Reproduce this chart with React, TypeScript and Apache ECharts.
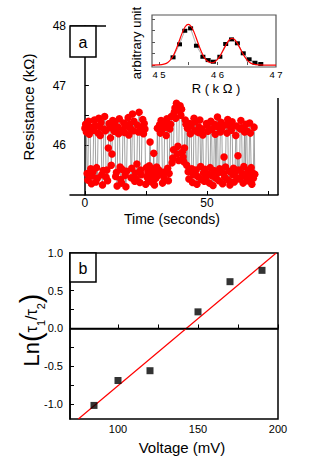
import React, { useEffect, useRef } from 'react';
import * as echarts from 'echarts';

const FONT = '"Liberation Sans", Arial, sans-serif';

// ---- Panel (a): random telegraph signal, resistance (kΩ) sampled every 0.3 s ----
const sampleStep = 0.3;
const resistance = [
  46.28, 46.35, 46.22, 45.52, 45.41, 46.40, 46.18, 46.30, 45.60, 45.35,
  45.48, 45.55, 46.25, 46.42, 46.33, 45.38, 45.62, 45.44, 46.20, 46.45,
  46.31, 46.16, 46.38, 45.50, 45.33, 45.57, 46.27, 46.48, 46.24, 45.46,
  45.58, 45.40, 45.95, 46.36, 46.29, 46.12, 45.66, 45.85, 46.41, 46.34,
  46.23, 46.39, 45.47, 45.54, 45.31, 46.30, 46.19, 46.44, 45.63, 45.42,
  45.36, 45.59, 46.26, 46.37, 46.21, 45.49, 45.30, 45.56, 46.32, 46.46,
  46.17, 46.35, 46.28, 45.45, 45.61, 46.52, 46.24, 46.40, 45.39, 45.53,
  45.43, 45.68, 46.33, 46.22, 46.55, 45.37, 45.58, 45.50, 46.30, 46.43,
  46.19, 46.36, 46.27, 45.34, 45.62, 45.46, 45.55, 45.41, 45.65, 46.05,
  45.52, 45.38, 45.60, 45.47, 45.86, 45.33, 45.57, 45.44, 45.63, 46.28,
  45.49, 45.58, 46.34, 46.20, 46.41, 46.25, 45.36, 45.54, 45.45, 46.38,
  46.30, 46.16, 46.44, 45.61, 45.40, 45.52, 46.27, 46.35, 46.48, 45.70,
  45.78, 45.92, 46.55, 46.62, 46.45, 46.70, 45.85, 45.98, 45.74, 46.58,
  46.66, 46.50, 46.60, 45.88, 45.80, 45.72, 45.95, 46.42, 46.35, 45.66,
  46.28, 45.55, 45.43, 46.36, 46.19, 46.32, 45.60, 45.37, 45.50, 46.45,
  46.24, 46.39, 45.58, 45.34, 45.47, 46.21, 46.30, 46.42, 45.64, 45.42,
  46.27, 46.17, 45.53, 45.39, 45.59, 45.45, 46.36, 46.33, 46.23, 45.51,
  45.36, 45.62, 46.40, 46.26, 45.48, 45.32, 45.57, 46.35, 46.18, 45.44,
  46.31, 46.47, 45.54, 45.40, 45.60, 46.22, 46.38, 46.28, 45.35, 45.52,
  45.80, 45.46, 45.63, 46.34, 46.20, 46.43, 45.41, 45.56, 45.33, 46.30,
  46.25, 46.39, 45.50, 45.61, 45.38, 45.55, 46.16, 46.32, 45.45, 45.82,
  45.58, 45.43, 46.27, 46.41, 46.29, 45.52, 45.36, 45.64, 46.22, 45.47,
  46.35, 46.24, 45.40, 45.57, 45.49, 46.37, 46.20, 45.62, 45.34, 45.53,
  45.44, 46.30, 45.51,
];
const timeTicks = [0, 25, 50, 75];
const timeLabels = [0, 50];
const resTicks = [45.5, 46, 46.5, 47, 47.5, 48];
const resLabels = [46, 47, 48];

// ---- Inset: histogram of R (kΩ) and double-Gaussian fit ----
const histR = [4.524, 4.535, 4.544, 4.554, 4.564, 4.575, 4.584, 4.593, 4.604, 4.614, 4.624, 4.634, 4.644, 4.654, 4.664, 4.674];
const histCount = [0.67, 1.80, 2.98, 3.19, 1.68, 0.72, 0.43, 0.29, 0.72, 1.83, 2.23, 1.89, 1.02, 0.50, 0.20, 0.09];
const fitR = [4.488, 4.50, 4.51, 4.515, 4.52, 4.525, 4.53, 4.535, 4.54, 4.545, 4.55, 4.555, 4.56, 4.565, 4.57, 4.575, 4.58, 4.585, 4.59, 4.595, 4.60, 4.605, 4.61, 4.615, 4.62, 4.625, 4.63, 4.635, 4.64, 4.645, 4.65, 4.655, 4.66, 4.67, 4.68, 4.70];
const fitCount = [0.0, 0.01, 0.10, 0.23, 0.48, 0.88, 1.46, 2.15, 2.84, 3.35, 3.54, 3.35, 2.84, 2.15, 1.46, 0.88, 0.48, 0.27, 0.20, 0.27, 0.49, 0.84, 1.31, 1.80, 2.18, 2.32, 2.18, 1.80, 1.31, 0.84, 0.47, 0.23, 0.10, 0.01, 0.0, 0.0];
const insetTicks = [4.5, 4.55, 4.6, 4.65];
const insetLabels = [4.5, 4.6, 4.7];

// ---- Panel (b): Ln(tau1/tau2) vs voltage ----
const voltage = [85, 100, 120, 150, 170, 190];
const lnRatio = [-1.02, -0.69, -0.56, 0.22, 0.62, 0.77];
const fitVoltage = [75.2, 198.9];
const fitLn = [-1.2, 1.0];
const voltTicks = [100, 125, 150, 175, 200];
const voltLabels = [100, 150, 200];
const lnTicks = [-1, -0.75, -0.5, -0.25, 0, 0.25, 0.5, 0.75, 1];
const lnLabels = [-1, -0.5, 0, 0.5, 1];

const axisLine = { show: true, lineStyle: { color: '#000', width: 1.5 } };

export default function App() {
  const ref = useRef<HTMLDivElement>(null);
  useEffect(() => {
    if (!ref.current) return;
    const chart = echarts.init(ref.current, null, { renderer: 'svg' });
    const timeData = resistance.map((r, i) => [+(i * sampleStep).toFixed(1), r]);
    const option: any = {
      animation: false,
      textStyle: { fontFamily: FONT, color: '#000' },
      grid: [
        { left: 70, top: 26, width: 208, height: 169 },
        { left: 152, top: 15, width: 124, height: 52, show: true, borderColor: '#555', borderWidth: 1.2 },
        { left: 70, top: 253, width: 208, height: 166, show: true, borderColor: '#000', borderWidth: 1.5 },
      ],
      xAxis: [
        {
          gridIndex: 0, type: 'value', min: -6.1, max: 79.1,
          axisLine, splitLine: { show: false },
          axisTick: { show: true, inside: true, length: 4, customValues: timeTicks, lineStyle: { color: '#000' } },
          axisLabel: { customValues: timeLabels, fontSize: 12, color: '#000', margin: 2, fontFamily: FONT },
        },
        {
          gridIndex: 1, type: 'value', min: 4.488, max: 4.7,
          axisLine: { show: false }, splitLine: { show: false },
          axisTick: { show: true, inside: true, length: 3, customValues: insetTicks, lineStyle: { color: '#555' } },
          axisLabel: {
            customValues: insetLabels, fontSize: 9.5, color: '#000', margin: 2, fontFamily: FONT,
            formatter: (v: number) => v.toFixed(1).replace('.', ' '),
          },
        },
        {
          gridIndex: 2, type: 'value', min: 70, max: 200,
          axisLine, splitLine: { show: false },
          axisTick: { show: true, inside: true, length: 4, customValues: voltTicks, lineStyle: { color: '#000' } },
          axisLabel: { customValues: voltLabels, fontSize: 11, color: '#000', margin: 4, fontFamily: FONT },
        },
      ],
      yAxis: [
        {
          gridIndex: 0, type: 'value', min: 45.16, max: 48,
          axisLine, splitLine: { show: false },
          axisTick: { show: true, inside: true, length: 4, customValues: resTicks, lineStyle: { color: '#000' } },
          axisLabel: { customValues: resLabels, fontSize: 12, color: '#000', margin: 4, fontFamily: FONT },
        },
        {
          gridIndex: 1, type: 'value', min: -0.17, max: 4.35,
          axisLine: { show: false }, splitLine: { show: false },
          axisTick: { show: true, inside: true, length: 3, customValues: [0, 1, 2, 3, 4], lineStyle: { color: '#555' } },
          axisLabel: { show: false },
        },
        {
          gridIndex: 2, type: 'value', min: -1.2, max: 1.0,
          axisLine, splitLine: { show: false },
          axisTick: { show: true, inside: true, length: 4, customValues: lnTicks, lineStyle: { color: '#000' } },
          axisLabel: {
            customValues: lnLabels, fontSize: 11, color: '#000', margin: 7, fontFamily: FONT,
            formatter: (v: number) => v.toFixed(1),
          },
        },
      ],
      series: [
        {
          type: 'line', xAxisIndex: 0, yAxisIndex: 0, data: timeData, symbol: 'none',
          lineStyle: { color: '#8a8a8a', width: 0.8 }, z: 2,
        },
        {
          type: 'scatter', xAxisIndex: 0, yAxisIndex: 0, data: timeData, symbol: 'circle', symbolSize: 7.5,
          itemStyle: { color: '#ff0000', opacity: 1 }, z: 3,
        },
        {
          type: 'line', xAxisIndex: 1, yAxisIndex: 1, data: histR.map((r, i) => [r, histCount[i]]),
          symbol: 'rect', symbolSize: [5, 4], showSymbol: true,
          itemStyle: { color: '#000' }, lineStyle: { color: '#999', width: 0.8 }, z: 3,
        },
        {
          type: 'line', xAxisIndex: 1, yAxisIndex: 1, data: fitR.map((r, i) => [r, fitCount[i]]),
          symbol: 'none', smooth: 0.3, lineStyle: { color: '#ff0000', width: 1.2 }, z: 4,
        },
        {
          type: 'scatter', xAxisIndex: 2, yAxisIndex: 2, data: voltage.map((v, i) => [v, lnRatio[i]]),
          symbol: 'rect', symbolSize: 7, itemStyle: { color: '#000' }, z: 4,
          markLine: {
            silent: true, symbol: 'none', label: { show: false },
            lineStyle: { color: '#000', width: 1.3, type: 'solid' },
            data: [{ yAxis: 0 }],
          },
        },
        {
          type: 'line', xAxisIndex: 2, yAxisIndex: 2, data: fitVoltage.map((v, i) => [v, fitLn[i]]),
          symbol: 'none', lineStyle: { color: '#ff0000', width: 1.2 }, z: 3,
        },
      ],
      graphic: [
        { type: 'line', shape: { x1: 70, y1: 26, x2: 106, y2: 26 }, style: { stroke: '#000', lineWidth: 1.5 } },
        { type: 'line', shape: { x1: 278, y1: 98, x2: 278, y2: 195 }, style: { stroke: '#000', lineWidth: 1.5 } },
        { type: 'rect', shape: { x: 70, y: 26, width: 26, height: 31 }, style: { fill: '#fff', stroke: '#000', lineWidth: 1.5 }, z: 10 },
        { type: 'text', x: 83, y: 42, style: { text: 'a', font: `16px ${FONT}`, fill: '#000', align: 'center', verticalAlign: 'middle' }, z: 11 },
        { type: 'rect', shape: { x: 70, y: 253, width: 26, height: 29 }, style: { fill: '#fff', stroke: '#000', lineWidth: 1.5 }, z: 10 },
        { type: 'text', x: 83, y: 268, style: { text: 'b', font: `16px ${FONT}`, fill: '#000', align: 'center', verticalAlign: 'middle' }, z: 11 },
        { type: 'text', x: 28, y: 107, rotation: Math.PI / 2, style: { text: 'Resistance (kΩ)', font: `15px ${FONT}`, fill: '#000', align: 'center', verticalAlign: 'middle' } },
        { type: 'text', x: 172, y: 219, style: { text: 'Time (seconds)', font: `14px ${FONT}`, fill: '#000', align: 'center', verticalAlign: 'middle' } },
        { type: 'text', x: 136, y: 43, rotation: Math.PI / 2, style: { text: 'arbitrary unit', font: `13px ${FONT}`, fill: '#000', align: 'center', verticalAlign: 'middle' } },
        { type: 'text', x: 216, y: 88, style: { text: 'R ( k Ω )', font: `13px ${FONT}`, fill: '#000', align: 'center', verticalAlign: 'middle' } },
        { type: 'text', x: 182, y: 447, style: { text: 'Voltage (mV)', font: `15px ${FONT}`, fill: '#000', align: 'center', verticalAlign: 'middle' } },
        {
          type: 'text', x: 31, y: 330, rotation: Math.PI / 2,
          style: {
            text: '{ln|Ln}{p|(}{t|τ}{s|1}{t|/τ}{s|2}{p|)}',
            fill: '#000', align: 'center', verticalAlign: 'middle',
            font: `16px ${FONT}`,
            rich: {
              ln: { fontSize: 22, fontFamily: FONT, fill: '#000' },
              p: { fontSize: 29, fontFamily: FONT, fill: '#000' },
              t: { fontSize: 16, fontFamily: FONT, fill: '#000' },
              s: { fontSize: 11, fontFamily: FONT, fill: '#000', padding: [20, 0, 0, 0] },
            },
          },
        },
      ],
    };
    chart.setOption(option);
    return () => chart.dispose();
  }, []);
  return <div ref={ref} style={{ position: 'absolute', left: 0, top: 0, width: 332, height: 470 }} />;
}
